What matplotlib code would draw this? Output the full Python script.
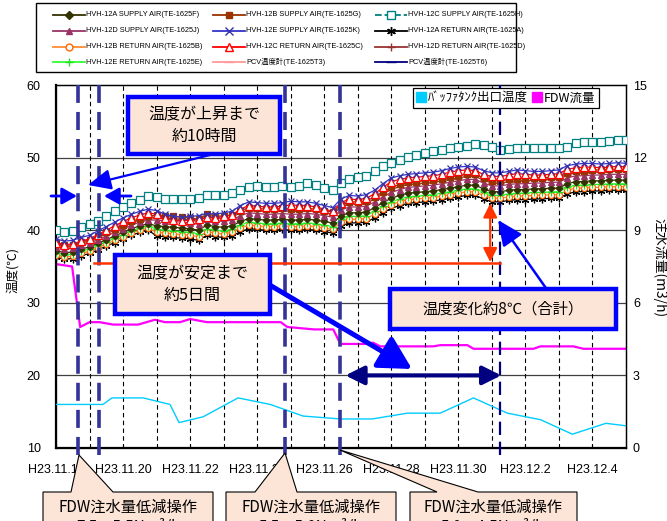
import matplotlib
matplotlib.use('Agg')
import matplotlib.pyplot as plt
from matplotlib.lines import Line2D
from matplotlib.patches import Rectangle, Polygon, FancyArrowPatch
from matplotlib import font_manager

plt.rcParams['font.family'] = ['Liberation Sans', 'Noto Sans CJK JP']
CJK = ['Noto Sans CJK JP', 'DejaVu Sans']
_names = {f.name for f in font_manager.fontManager.ttflist}
if 'Liberation Sans Narrow' in _names:
    NARROW, LEG_FS = ['Liberation Sans Narrow', 'Noto Sans CJK JP'], 6.0
else:
    NARROW, LEG_FS = ['Liberation Sans', 'Noto Sans CJK JP'], 5.3

# ---------------- data ----------------
# sampling times (hours after H23.11.18 0:00), every 6 h
hours = list(range(0, 409, 6))

tick_pos = [0, 2, 4, 6, 8, 10, 12, 14, 16]
tick_labels = ['H23.11.18', 'H23.11.20', 'H23.11.22', 'H23.11.24', 'H23.11.26',
               'H23.11.28', 'H23.11.30', 'H23.12.2', 'H23.12.4']

hvh12c_supply = [40.0, 39.7, 39.9, 40.5, 40.8, 41.2, 42.0, 42.7, 43.2, 43.7, 44.2, 44.7,
                 44.6, 44.3, 44.3, 44.3, 44.3, 44.4, 44.8, 44.9, 44.9, 45.1, 45.6, 46.0,
                 46.1, 46.0, 46.0, 46.1, 46.0, 46.1, 46.5, 46.2, 45.8, 45.5, 46.5, 47.1,
                 47.3, 47.5, 48.1, 48.8, 49.3, 49.7, 50.1, 50.4, 50.6, 50.9, 51.1, 51.3,
                 51.4, 51.6, 51.9, 51.8, 51.4, 51.0, 51.2, 51.3, 51.3, 51.3, 51.3, 51.3,
                 51.3, 51.4, 52.0, 52.1, 52.1, 52.1, 52.3, 52.4, 52.4]

hvh12e_supply = [38.8, 38.5, 38.6, 39.0, 39.3, 39.9, 40.5, 41.1, 41.7, 42.2, 42.6, 42.9,
                 42.7, 42.2, 41.9, 41.8, 41.9, 42.0, 42.3, 42.2, 42.4, 42.6, 43.4, 43.9,
                 43.8, 43.7, 43.7, 43.8, 44.0, 43.9, 43.9, 43.7, 43.4, 43.1, 44.3, 44.8,
                 44.7, 44.9, 45.5, 46.4, 47.2, 47.5, 47.7, 47.8, 47.9, 48.0, 48.2, 48.5,
                 48.7, 48.8, 48.7, 48.2, 47.9, 47.9, 48.1, 48.3, 48.2, 48.1, 48.1, 48.2,
                 48.3, 48.9, 49.1, 49.2, 49.2, 49.1, 49.2, 49.3, 49.2]

hvh12c_return = [38.3, 38.0, 38.1, 38.5, 38.8, 39.4, 40.0, 40.6, 41.2, 41.7, 42.1, 42.4,
                 42.2, 41.7, 41.4, 41.3, 41.4, 41.5, 41.8, 41.7, 41.9, 42.1, 42.9, 43.4,
                 43.3, 43.2, 43.2, 43.3, 43.5, 43.4, 43.4, 43.2, 42.9, 42.6, 43.8, 44.3,
                 44.2, 44.4, 45.0, 45.9, 46.7, 47.0, 47.2, 47.3, 47.4, 47.5, 47.7, 48.0,
                 48.2, 48.3, 48.2, 47.7, 47.4, 47.4, 47.6, 47.8, 47.7, 47.6, 47.6, 47.7,
                 47.8, 48.4, 48.6, 48.7, 48.7, 48.6, 48.7, 48.8, 48.7]

hvh12b_supply = [38.2, 37.9, 38.0, 38.4, 38.7, 39.2, 39.7, 40.2, 40.7, 41.2, 41.6, 41.9,
                 42.1, 42.0, 41.9, 41.8, 41.7, 41.5, 42.2, 42.0, 41.9, 42.1, 42.7, 43.1,
                 43.0, 42.9, 42.9, 43.0, 42.9, 42.9, 43.0, 42.9, 42.7, 42.5, 43.5, 43.9,
                 43.9, 44.0, 44.6, 45.3, 45.9, 46.3, 46.6, 46.7, 46.8, 46.9, 47.1, 47.3,
                 47.5, 47.7, 47.7, 47.2, 46.8, 46.8, 47.0, 47.1, 47.1, 47.2, 47.2, 47.3,
                 47.3, 47.9, 48.2, 48.2, 48.3, 48.3, 48.4, 48.4, 48.4]

hvh12d_return = [38.0, 37.7, 37.8, 38.2, 38.5, 39.0, 39.5, 40.0, 40.5, 41.0, 41.4, 41.7,
                 41.8, 41.7, 41.6, 41.5, 41.4, 41.2, 41.9, 41.7, 41.6, 41.8, 42.4, 42.8,
                 42.7, 42.6, 42.6, 42.7, 42.6, 42.6, 42.7, 42.6, 42.4, 42.2, 43.2, 43.6,
                 43.6, 43.7, 44.3, 45.0, 45.6, 46.0, 46.3, 46.4, 46.5, 46.6, 46.8, 47.0,
                 47.2, 47.4, 47.4, 46.9, 46.5, 46.5, 46.7, 46.8, 46.8, 46.9, 46.9, 47.0,
                 47.0, 47.6, 47.9, 47.9, 48.0, 48.0, 48.1, 48.1, 48.1]

hvh12d_supply = [37.7, 37.4, 37.5, 37.9, 38.2, 38.7, 39.2, 39.7, 40.2, 40.7, 41.1, 41.4,
                 41.4, 41.3, 41.2, 41.1, 41.0, 40.8, 41.5, 41.3, 41.2, 41.4, 42.0, 42.4,
                 42.3, 42.2, 42.2, 42.3, 42.2, 42.2, 42.3, 42.2, 42.0, 41.8, 42.8, 43.2,
                 43.2, 43.3, 43.9, 44.6, 45.2, 45.6, 45.9, 46.0, 46.1, 46.2, 46.4, 46.6,
                 46.8, 47.0, 47.0, 46.5, 46.1, 46.1, 46.3, 46.4, 46.4, 46.5, 46.5, 46.6,
                 46.6, 47.2, 47.5, 47.5, 47.6, 47.6, 47.7, 47.7, 47.7]

hvh12a_supply = [37.2, 36.9, 37.0, 37.4, 37.7, 38.2, 38.7, 39.2, 39.7, 40.2, 40.6, 40.9,
                 40.6, 40.5, 40.4, 40.3, 40.2, 40.0, 40.7, 40.5, 40.4, 40.6, 41.2, 41.6,
                 41.5, 41.4, 41.4, 41.5, 41.4, 41.4, 41.5, 41.4, 41.2, 41.0, 42.0, 42.4,
                 42.4, 42.5, 43.1, 43.8, 44.4, 44.8, 45.1, 45.2, 45.3, 45.4, 45.6, 45.8,
                 46.0, 46.2, 46.2, 45.7, 45.3, 45.3, 45.5, 45.6, 45.6, 45.7, 45.7, 45.8,
                 45.8, 46.4, 46.7, 46.7, 46.8, 46.8, 46.9, 46.9, 46.9]

hvh12e_return = [36.9, 36.6, 36.7, 37.1, 37.4, 37.9, 38.4, 38.9, 39.4, 39.9, 40.3, 40.6,
                 40.1, 40.0, 39.9, 39.8, 39.7, 39.5, 40.2, 40.0, 39.9, 40.1, 40.7, 41.1,
                 41.0, 40.9, 40.9, 41.0, 40.9, 40.9, 41.0, 40.9, 40.7, 40.5, 41.5, 41.9,
                 41.9, 42.0, 42.6, 43.3, 43.9, 44.3, 44.6, 44.7, 44.8, 44.9, 45.1, 45.3,
                 45.5, 45.7, 45.7, 45.2, 44.8, 44.8, 45.0, 45.1, 45.1, 45.2, 45.2, 45.3,
                 45.3, 45.9, 46.2, 46.2, 46.3, 46.3, 46.4, 46.4, 46.4]

hvh12b_return = [36.6, 36.3, 36.4, 36.8, 37.1, 37.6, 38.1, 38.6, 39.1, 39.6, 40.0, 40.3,
                 39.7, 39.6, 39.5, 39.4, 39.3, 39.1, 39.8, 39.6, 39.5, 39.7, 40.3, 40.7,
                 40.6, 40.5, 40.5, 40.6, 40.5, 40.5, 40.6, 40.5, 40.3, 40.1, 41.1, 41.5,
                 41.5, 41.6, 42.2, 42.9, 43.5, 43.9, 44.2, 44.3, 44.4, 44.5, 44.7, 44.9,
                 45.1, 45.3, 45.3, 44.8, 44.4, 44.4, 44.6, 44.7, 44.7, 44.8, 44.8, 44.9,
                 44.9, 45.5, 45.8, 45.8, 45.9, 45.9, 46.0, 46.0, 46.0]

hvh12a_return = [36.3, 36.0, 36.1, 36.5, 36.8, 37.3, 37.8, 38.3, 38.8, 39.3, 39.7, 40.0,
                 39.2, 39.1, 39.0, 38.9, 38.8, 38.6, 39.3, 39.1, 39.0, 39.2, 39.8, 40.2,
                 40.1, 40.0, 40.0, 40.1, 40.0, 40.0, 40.1, 40.0, 39.8, 39.6, 40.6, 41.0,
                 41.0, 41.1, 41.7, 42.4, 43.0, 43.4, 43.7, 43.8, 43.9, 44.0, 44.2, 44.4,
                 44.6, 44.8, 44.8, 44.3, 43.9, 43.9, 44.1, 44.2, 44.2, 44.3, 44.3, 44.4,
                 44.4, 45.0, 45.3, 45.3, 45.4, 45.4, 45.5, 45.5, 45.5]

# buffer tank outlet temperature (deg C), days after 11/18
buffer_days = [0, 1.4, 1.67, 2.6, 3.4, 3.67, 4.39, 5.43, 6.39, 7.37, 8.48, 9.43,
               10.48, 11.46, 12.45, 13.46, 14.45, 15.4, 16.4, 17.1]
buffer_temp = [16.0, 16.0, 16.9, 16.9, 16.0, 13.5, 14.3, 16.9, 16.0, 14.4, 14.0, 14.0,
               14.8, 14.8, 16.9, 14.8, 13.9, 11.9, 13.4, 13.0]

# FDW flow (m3/h)
fdw_days = [0, 0.48, 0.72, 1.0, 1.3, 1.7, 2.45, 2.95, 3.25, 3.7, 4.0, 4.5, 6.7, 6.9,
            7.7, 8.27, 8.48, 9.2, 9.46, 9.67, 11.25, 11.46, 12.27, 12.45, 14.24, 14.45,
            15.43, 15.73, 17.0]
fdw_flow = [7.6, 7.5, 5.0, 5.2, 5.2, 5.1, 5.1, 5.3, 5.2, 5.2, 5.33, 5.2, 5.2, 5.0,
            4.9, 4.9, 4.3, 4.3, 4.35, 4.2, 4.2, 4.25, 4.25, 4.1, 4.1, 4.2,
            4.2, 4.1, 4.1]

# FDW operations (days after 11/18)
op_days = [0.66, 6.84, 8.48]
rise_days = [1.28]
stable_day = 13.25

# ---------------- figure ----------------
W, H = 667, 521
fig = plt.figure(figsize=(W / 100, H / 100), dpi=100)
fig.patch.set_facecolor('white')


def P(x, y):
    return (x / W, 1 - y / H)


ax = fig.add_axes([56 / W, 1 - 448 / H, 570 / W, 363 / H])
ax2 = ax.twinx()
ax.set_zorder(2)
ax2.set_zorder(1)
ax.patch.set_visible(False)

days = [h / 24 for h in hours]

series = [
    ('HVH-12A SUPPLY AIR(TE-1625F)', hvh12a_supply, dict(color='#333300', marker='D', ms=3.4, mfc='#333300', mec='#333300', ls='-')),
    ('HVH-12B SUPPLY AIR(TE-1625G)', hvh12b_supply, dict(color='#993300', marker='s', ms=3.8, mfc='#993300', mec='#993300', ls='-')),
    ('HVH-12C SUPPLY AIR(TE-1625H)', hvh12c_supply, dict(color='#008080', marker='s', ms=5.2, mfc='white', mec='#008080', ls='--')),
    ('HVH-12D SUPPLY AIR(TE-1625J)', hvh12d_supply, dict(color='#993366', marker='^', ms=4.2, mfc='#993366', mec='#993366', ls='-')),
    ('HVH-12E SUPPLY AIR(TE-1625K)', hvh12e_supply, dict(color='#3333CC', marker='x', ms=5.0, mfc='none', mec='#3333AA', ls='-')),
    ('HVH-12A RETURN AIR(TE-1625A)', hvh12a_return, dict(color='#000000', marker=(6, 2, 0), ms=5.5, mfc='none', mec='#000000', ls='-')),
    ('HVH-12B RETURN AIR(TE-1625B)', hvh12b_return, dict(color='#FF8C33', marker='o', ms=4.3, mfc='white', mec='#FF6600', ls='-')),
    ('HVH-12C RETURN AIR(TE-1625C)', hvh12c_return, dict(color='#FF0000', marker='^', ms=5.2, mfc='white', mec='#FF0000', ls='-')),
    ('HVH-12D RETURN AIR(TE-1625D)', hvh12d_return, dict(color='#993333', marker='+', ms=5.5, mfc='none', mec='#993333', ls='-')),
    ('HVH-12E RETURN AIR(TE-1625E)', hvh12e_return, dict(color='#33FF33', marker='+', ms=5.5, mfc='none', mec='#22DD22', ls='-')),
    ('PCV温度計(TE-1625T3)', None, dict(color='#FF9999', marker='_', ms=6, mfc='#FF9999', mec='#FF9999', ls='-')),
    ('PCV温度計(TE-1625T6)', None, dict(color='#000080', marker='_', ms=6, mfc='#000080', mec='#000080', ls='-')),
]

draw_order = [5, 6, 9, 0, 3, 8, 1, 7, 4, 2]
for i in draw_order:
    name, vals, st = series[i]
    ax.plot(days, vals, lw=0.9, mew=0.9, zorder=5, **st)

ax.plot(buffer_days, buffer_temp, color='#00CCFF', lw=1.0, zorder=4)
ax2.plot(fdw_days, fdw_flow, color='#FF00FF', lw=1.6)

ax.set_xlim(0, 17)
ax.set_ylim(10, 60)
ax2.set_ylim(0, 15)
ax.set_yticks([10, 20, 30, 40, 50, 60])
ax2.set_yticks([0, 3, 6, 9, 12, 15])
ax.set_xticks(tick_pos)
ax.set_xticklabels(tick_labels)
ax.set_xticks(list(range(0, 18)), minor=True)
ax.tick_params(axis='x', which='both', direction='in', length=3, pad=11.5, labelsize=9)
ax.tick_params(axis='y', length=0, pad=11, labelsize=9)
ax2.tick_params(axis='y', length=0, pad=5, labelsize=9)

for s in ['top', 'right']:
    ax.spines[s].set_linewidth(0.9)
    ax2.spines[s].set_linewidth(0.9)
for s in ['left', 'bottom']:
    ax.spines[s].set_linewidth(1.6)

# horizontal grid
for yv in [20, 30, 40, 50]:
    ax.axhline(yv, color='#404040', lw=0.9, zorder=1)
# daily dashed grid
for d in range(1, 17):
    ax.axvline(d, color='#000000', lw=0.8, ls=(0, (4, 3)), zorder=1)

# operation markers (thick navy dashed)
for d in op_days + rise_days:
    ax.plot([d, d], [9.0, 60], color='#333399', lw=2.6, ls=(0, (5, 2.5)), clip_on=False, zorder=6)
ax.plot([stable_day, stable_day], [9.0, 60], color='#000080', lw=1.6, ls=(0, (6, 3)), clip_on=False, zorder=6)

# temperature change annotation
ax.plot([1.13, stable_day], [35.5, 35.5], color='#FF3300', lw=1.8, zorder=6)
ax.annotate('', xy=(12.95, 43.7), xytext=(12.95, 35.6),
            arrowprops=dict(arrowstyle='<|-|>,head_length=0.7,head_width=0.35', color='#FF3300',
                            lw=1.6, mutation_scale=12, shrinkA=0, shrinkB=0), zorder=7)
ax.annotate('', xy=(8.63, 20), xytext=(13.28, 20),
            arrowprops=dict(arrowstyle='<|-|>,head_length=0.8,head_width=0.4', color='#000080',
                            lw=3, mutation_scale=14, shrinkA=0, shrinkB=0), zorder=7)

fig.text(*P(13, 270), '温度(℃)', rotation=90, ha='center', va='center', fontsize=9, family=CJK)
fig.text(*P(660, 268), '注水流量(m3/h)', rotation=270, ha='center', va='center', fontsize=10, family=CJK)

# inner legend
ih = [Line2D([], [], ls='none', marker='s', ms=7, mfc='#00CCFF', mec='#00CCFF'),
      Line2D([], [], ls='none', marker='s', ms=7, mfc='#FF00FF', mec='#FF00FF')]
leg2 = ax.legend(ih, ['ﾊﾞｯﾌｧﾀﾝｸ出口温度', 'FDW流量'], loc='center', bbox_to_anchor=P(506, 98),
                 bbox_transform=fig.transFigure, ncol=2, handlelength=0.7,
                 handletextpad=0.2, columnspacing=0.4, borderpad=0.25, fancybox=False,
                 edgecolor='black', framealpha=1, prop={'family': CJK, 'size': 9})
leg2.get_frame().set_linewidth(0.9)
leg2.set_zorder(10)

# top legend (manual layout)
fig.add_artist(Rectangle(P(36, 72), 480 / W, 69 / H, transform=fig.transFigure,
                         facecolor='white', edgecolor='black', lw=1.0))
col_x = [53, 213, 375]
row_y = [15, 30.7, 46.7, 62.3]
for k, (name, vals, st) in enumerate(series):
    r, c = divmod(k, 3)
    x0, y0 = col_x[c], row_y[r]
    fig.add_artist(Line2D([x0 / W, (x0 + 32) / W], [1 - y0 / H, 1 - y0 / H], transform=fig.transFigure,
                          color=st['color'], lw=1.3, ls=st['ls']))
    fig.add_artist(Line2D([(x0 + 16) / W], [1 - y0 / H], transform=fig.transFigure, ls='none',
                          marker=st['marker'], ms=st['ms'] * 1.15, mfc=st['mfc'], mec=st['mec'], mew=1.0))
    fig.text((x0 + 33) / W, 1 - y0 / H, name, ha='left', va='center', fontsize=LEG_FS, family=NARROW)

BOX = '#FCE4D6'
BLUE = '#0000FF'


def blue_box(x, y, w, h, text, fs):
    fig.add_artist(Rectangle(P(x, y + h), w / W, h / H, transform=fig.transFigure,
                             facecolor=BOX, edgecolor=BLUE, lw=3.2, zorder=20))
    fig.text(*P(x + w / 2, y + h / 2), text, ha='center', va='center', fontsize=fs,
             family=CJK, zorder=21, linespacing=1.3)


def arrow(p1, p2, lw, hl, hw, scale, color=BLUE):
    fig.add_artist(FancyArrowPatch(P(*p1), P(*p2), transform=fig.transFigure,
                                   arrowstyle=f'-|>,head_length={hl},head_width={hw}',
                                   mutation_scale=scale, lw=lw, color=color,
                                   shrinkA=0, shrinkB=0, zorder=19))


arrow((210, 155), (88, 185), 1.6, 1.0, 0.45, 14)
arrow((51, 196), (77, 196), 2.0, 0.9, 0.5, 10)
arrow((131, 196), (104, 196), 2.0, 0.9, 0.5, 10)
arrow((268, 284), (412, 369), 3.6, 1.1, 0.6, 18)
arrow((548, 291), (498, 220), 1.8, 1.1, 0.5, 14)

blue_box(128, 97, 152, 57, '温度が上昇まで\n約10時間', 11.5)
blue_box(115, 255, 155, 59, '温度が安定まで\n約5日間', 11.5)
blue_box(390, 289, 226, 40, '温度変化約8℃（合計）', 11)

# bottom callouts (the second line runs off the bottom edge, as in the original)
callouts = [
    ([(43, 560), (43, 492), (71, 492), (79, 455), (113, 492), (213, 492), (213, 560)], 128, '7.5→5.5Nm³/h'),
    ([(226, 560), (226, 492), (255, 492), (285, 453), (297, 492), (396, 492), (396, 560)], 311, '5.5→5.0Nm³/h'),
    ([(410, 560), (410, 492), (437, 492), (340, 450), (478, 492), (577, 492), (577, 560)], 493, '5.0→4.5Nm³/h'),
]
for pts, cx, sub in callouts:
    fig.add_artist(Polygon([P(*p) for p in pts], closed=True, transform=fig.transFigure,
                           facecolor=BOX, edgecolor='black', lw=0.8, zorder=20))
    fig.text(*P(cx, 507), 'FDW注水量低減操作', ha='center', va='center', fontsize=11, family=CJK, zorder=21)
    fig.text(*P(cx, 527), sub, ha='center', va='center', fontsize=11, family=CJK, zorder=21)

fig.savefig('out.png', dpi=100)
